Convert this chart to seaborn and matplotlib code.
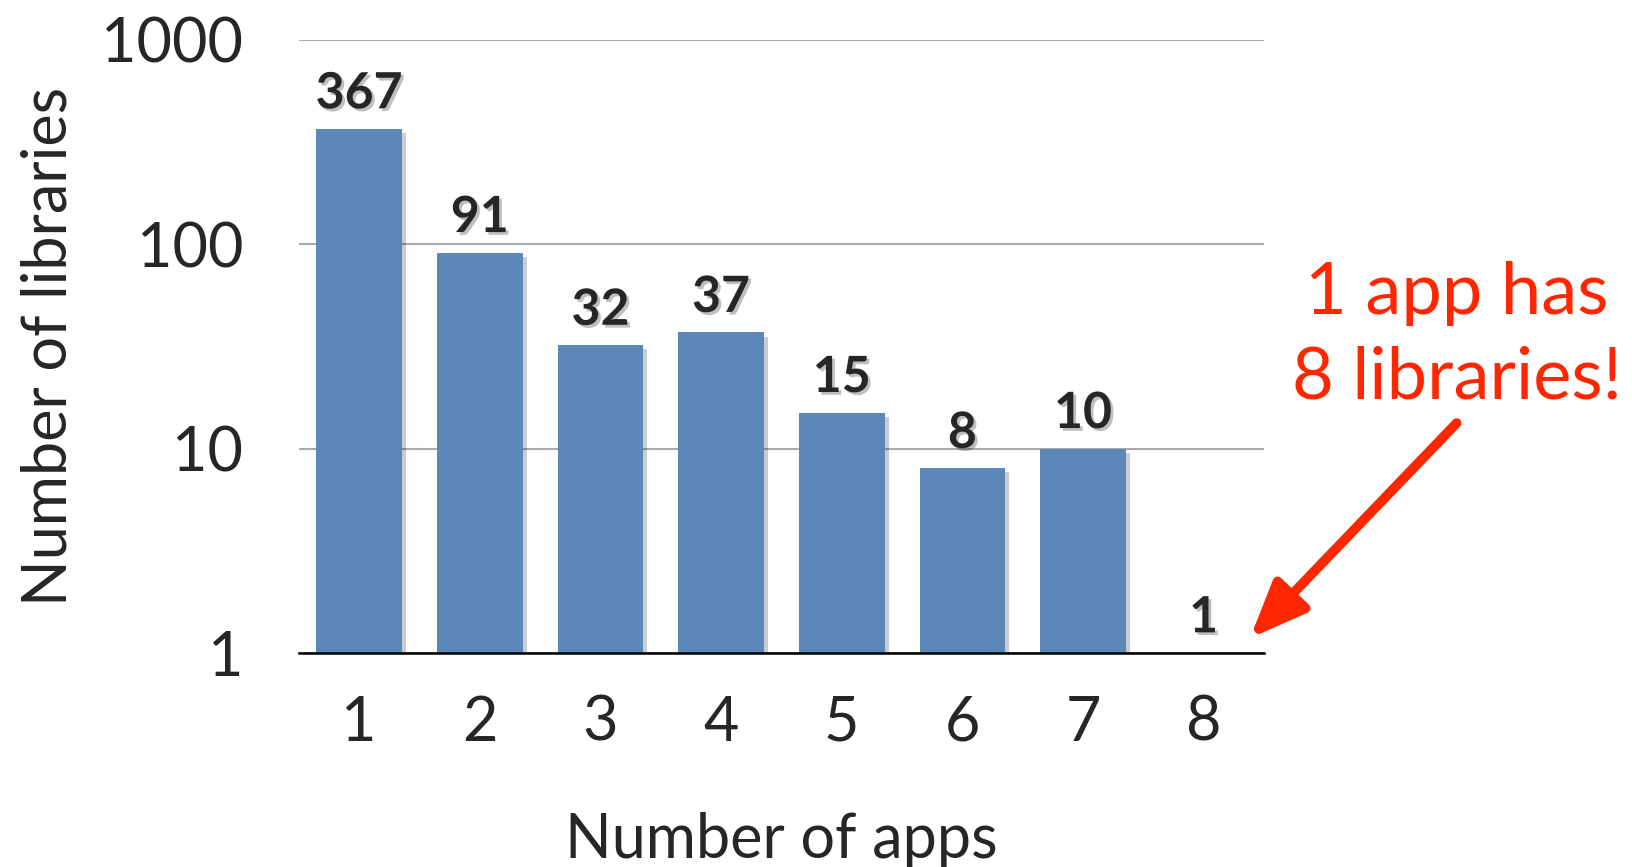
import numpy as np
import pandas as pd
import matplotlib
matplotlib.use("Agg")
import matplotlib.pyplot as plt
import matplotlib.patheffects as pe
from matplotlib.patches import FancyArrowPatch
import seaborn as sns

apps = ["1", "2", "3", "4", "5", "6", "7", "8"]
libraries = [367, 91, 32, 37, 15, 8, 10, 1]
y_ticks = [1, 10, 100, 1000]
y_tick_labels = ["1", "10", "100", "1000"]

bar_color = "#5b87b9"
red = "#ff2600"

sns.set_style("white")
plt.rcParams["font.family"] = ["Lato", "DejaVu Sans"]

df = pd.DataFrame({"apps": apps, "libraries": libraries})

fig = plt.figure(figsize=(16.33, 8.67), dpi=100)
ax = fig.add_axes([0.183, 0.247, 0.591, 0.707])

sns.barplot(data=df, x="apps", y="libraries", color=bar_color, saturation=1,
            width=0.71, ax=ax)
ax.set_yscale("log")
ax.set_ylim(1, 1000)
ax.set_xlim(-0.5, 7.5)

# soft-ish drop shadow on the bars
shadow = [pe.SimplePatchShadow(offset=(3, -3), shadow_rgbFace="k", alpha=0.2), pe.Normal()]
for bar in ax.patches:
    bar.set_path_effects(shadow)
    bar.set_linewidth(0)

ax.bar_label(ax.containers[0], fmt="%d", padding=9, fontsize=36, fontweight="bold",
             path_effects=[pe.SimplePatchShadow(offset=(2, -2), shadow_rgbFace="k", alpha=0.25), pe.Normal()])

ax.set_yticks(y_ticks)
ax.set_yticklabels(y_tick_labels)
ax.minorticks_off()
ax.tick_params(axis="both", length=0, labelsize=44)
ax.tick_params(axis="x", pad=30)
ax.tick_params(axis="y", pad=40)

ax.yaxis.grid(True, color="#ababab", linewidth=1.5)
ax.set_axisbelow(True)
for s in ["top", "right", "left"]:
    ax.spines[s].set_visible(False)
ax.spines["bottom"].set_color("black")
ax.spines["bottom"].set_linewidth(1.8)

ax.set_xlabel("Number of apps", fontsize=44)
ax.set_ylabel("Number of libraries", fontsize=44)
ax.xaxis.set_label_coords(0.5, -0.26)
ax.yaxis.set_label_coords(-0.229, 0.5)

fig.text(0.892, 0.613, "1 app has\n8 libraries!", color=red, fontsize=52,
         ha="center", va="center", linespacing=1.37)

arrow = FancyArrowPatch((0.892, 0.512), (0.7655, 0.264), transform=fig.transFigure,
                        arrowstyle="-|>,head_length=34,head_width=14", mutation_scale=1,
                        color=red, linewidth=7, shrinkA=0, shrinkB=0)
fig.patches.append(arrow)

fig.savefig("out.png", dpi=100, facecolor="white")
